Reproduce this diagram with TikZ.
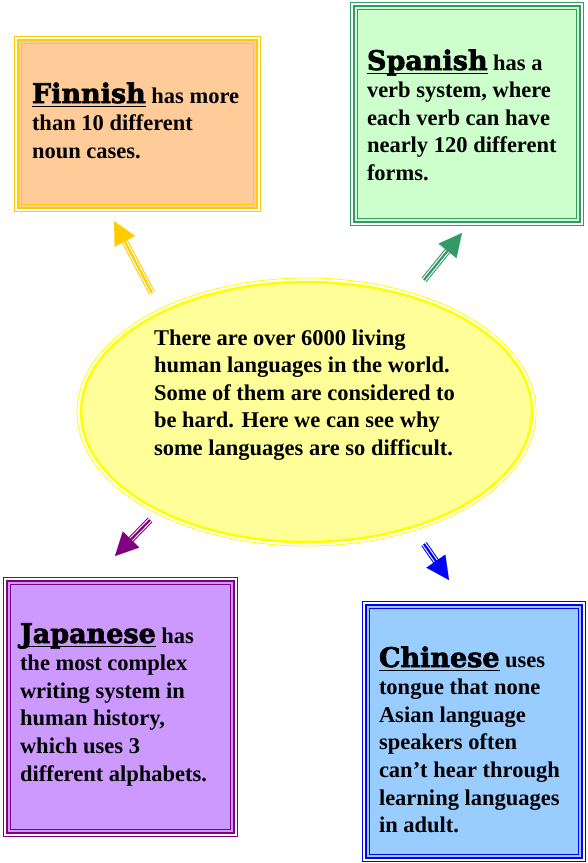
\documentclass[tikz,border=0pt]{standalone}
\usepackage{fontspec}
\setmainfont{Liberation Serif}
\newfontfamily\ttlfont{DejaVu Serif Bold}[FakeBold=2.5]
\usetikzlibrary{arrows.meta,calc,shapes.geometric}
\definecolor{finB}{HTML}{FFCC00}\definecolor{finF}{HTML}{FFCC99}
\definecolor{spaB}{HTML}{339966}\definecolor{spaF}{HTML}{CCFFCC}
\definecolor{japB}{HTML}{800080}\definecolor{japF}{HTML}{CC99FF}
\definecolor{chiB}{HTML}{0000FF}\definecolor{chiF}{HTML}{99CCFF}
\definecolor{hubB}{HTML}{FFFF00}\definecolor{hubF}{HTML}{FFFF99}
\newcommand\titleword[1]{\leavevmode\setbox0\hbox{\ttlfont\fontsize{27bp}{27.6bp}\selectfont #1}\rlap{\rule[-4bp]{\wd0}{1bp}}\box0\relax}
\newcommand\thinframe[2]{%
  \draw[#2, line width=1.3bp] ([shift={(-3.3bp,3.3bp)}]#1.north west) rectangle ([shift={(3.3bp,-3.3bp)}]#1.south east);
  \draw[#2, line width=1.3bp] ([shift={(3.3bp,-3.3bp)}]#1.north west) rectangle ([shift={(-3.3bp,3.3bp)}]#1.south east);}
\newcommand\triarrow[3]{%
  \draw[#1, line width=6.5bp, shorten >=20bp] (#2) -- (#3);
  \draw[white, line width=4.4bp, shorten >=20bp] (#2) -- (#3);
  \draw[#1, line width=2.2bp, shorten >=20bp] (#2) -- (#3);
  \draw[#1, line width=0.1bp, -{Triangle[length=23bp,width=23bp]}] ($(#3)!24bp!(#2)$) -- (#3);}
\tikzset{
  factbox/.style 2 args={rectangle, draw=#1, fill=#2, line width=2.7bp, inner sep=0pt, outer sep=0pt, anchor=north west},
  facttext/.style={anchor=base west, inner sep=0pt, outer sep=0pt},
}
\newcommand\bodyfont{\fontsize{22.5bp}{27.6bp}\selectfont\bfseries}
\begin{document}
\begin{tikzpicture}[x=1bp,y=-1bp]
\useasboundingbox (0,0) rectangle (588,863);
% central ellipse
\node[ellipse, draw=hubB, fill=hubF, line width=2.5bp, minimum width=451bp, minimum height=260bp, inner sep=0pt, outer sep=0pt] (hub) at (306.5,412) {};
\draw[hubB, line width=0.8bp] (hub.center) ellipse [x radius=229.5bp, y radius=134bp];
\node[facttext] (hubtext) at (154,345) {\parbox[t]{330bp}{\bodyfont
There are over 6000 living\\
human languages in the world.\\
Some of them are considered to\\
be hard. Here we can see why\\
some languages are so difficult.}};
% boxes
\node[factbox={finB}{finF}, minimum width=239bp, minimum height=168bp] (fin) at (18,40) {};
\thinframe{fin}{finB}
\node[factbox={spaB}{spaF}, minimum width=226bp, minimum height=216bp] (spa) at (354,6) {};
\thinframe{spa}{spaB}
\node[factbox={japB}{japF}, minimum width=227bp, minimum height=252bp] (jap) at (7,581) {};
\thinframe{jap}{japB}
\node[factbox={chiB}{chiF}, minimum width=216bp, minimum height=253bp] (chi) at (366,605) {};
\thinframe{chi}{chiB}
% texts
\node[facttext] (fintext) at (32,103) {\parbox[t]{300bp}{\bodyfont
\titleword{Finnish} has more\\
than 10 different\\
noun cases.}};
\node[facttext] (spatext) at (367,70) {\parbox[t]{300bp}{\bodyfont
\titleword{Spanish} has a\\
verb system, where\\
each verb can have\\
nearly 120 different\\
forms.}};
\node[facttext] (japtext) at (20,643) {\parbox[t]{300bp}{\bodyfont
\titleword{Japanese} has\\
the most complex\\
writing system in\\
human history,\\
which uses 3\\
different alphabets.}};
\node[facttext] (chitext) at (379,667) {\parbox[t]{300bp}{\bodyfont
\titleword{Chinese} uses\\
tongue that none\\
Asian language\\
speakers often\\
can’t hear through\\
learning languages\\
in adult.}};
% arrows
\coordinate (finTail) at (152,293); \coordinate (finTip) at (114,221);
\coordinate (spaTail) at (424,280); \coordinate (spaTip) at (462,233);
\coordinate (japTail) at (150,520); \coordinate (japTip) at (115,556);
\coordinate (chiTail) at (424,544); \coordinate (chiTip) at (449,580);
\triarrow{finB}{finTail}{finTip}
\triarrow{spaB}{spaTail}{spaTip}
\triarrow{japB}{japTail}{japTip}
\triarrow{chiB}{chiTail}{chiTip}
\end{tikzpicture}
\end{document}
